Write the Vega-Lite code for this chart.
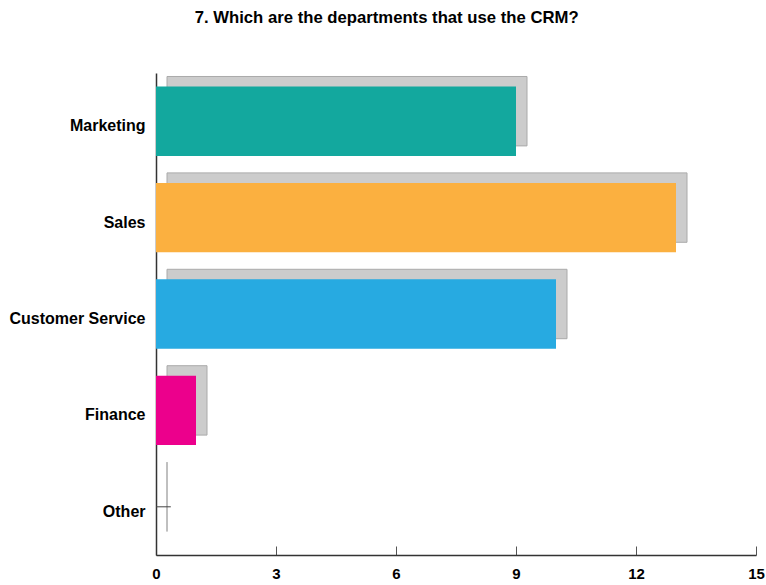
{
  "$schema": "https://vega.github.io/schema/vega-lite/v6.json",
  "width": 600,
  "height": 482,
  "autosize": {"type": "none"},
  "padding": {"left": 156, "top": 73, "right": 10, "bottom": 30},
  "background": "white",
  "title": {
    "text": "7. Which are the departments that use the CRM?",
    "font": "Liberation Sans",
    "fontSize": 16.7,
    "fontWeight": "bold",
    "color": "#000000",
    "anchor": "middle",
    "frame": "bounds",
    "offset": 46
  },
  "config": {"view": {"stroke": null}},
  "data": {
    "values": [
      {"dept": "Marketing", "count": 9},
      {"dept": "Sales", "count": 13},
      {"dept": "Customer Service", "count": 10},
      {"dept": "Finance", "count": 1},
      {"dept": "Other", "count": 0}
    ]
  },
  "encoding": {
    "y": {
      "field": "dept",
      "type": "nominal",
      "sort": null,
      "title": null,
      "scale": {"paddingInner": 0.28, "paddingOuter": 0.14},
      "axis": {
        "ticks": false,
        "domainColor": "#333333",
        "domainWidth": 1.5,
        "labelFont": "Liberation Sans",
        "labelFontSize": 16,
        "labelFontWeight": "bold",
        "labelColor": "#000000",
        "labelPadding": 11,
        "labelOffset": 5
      }
    }
  },
  "layer": [
    {
      "mark": {"type": "bar", "xOffset": 11, "yOffset": -10, "fill": "#cccccc", "stroke": "#aaaaaa", "strokeWidth": 1},
      "encoding": {
        "x": {
          "field": "count",
          "type": "quantitative",
          "scale": {"domain": [0, 15], "nice": false},
          "title": null,
          "axis": {
            "values": [0, 3, 6, 9, 12, 15],
            "grid": false,
            "tickSize": -9,
            "tickColor": "#555555",
            "domainColor": "#333333",
            "domainWidth": 1.5,
            "labelFont": "Liberation Sans",
            "labelFontSize": 15,
            "labelFontWeight": "bold",
            "labelColor": "#000000",
            "labelPadding": 20,
            "labelFlush": false
          }
        }
      }
    },
    {
      "mark": {"type": "bar"},
      "encoding": {
        "x": {"field": "count", "type": "quantitative"},
        "color": {
          "field": "dept",
          "type": "nominal",
          "legend": null,
          "scale": {
            "domain": ["Marketing", "Sales", "Customer Service", "Finance", "Other"],
            "range": ["#13a89e", "#fbb040", "#27aae1", "#ec008c", "#888888"]
          }
        }
      }
    },
    {
      "transform": [{"filter": "datum.count == 0"}],
      "mark": {"type": "rule", "color": "#444444", "strokeWidth": 1},
      "encoding": {
        "x": {"datum": 0, "type": "quantitative"},
        "x2": {"datum": 0.37},
        "y": {"field": "dept", "type": "nominal", "sort": null}
      }
    }
  ]
}
